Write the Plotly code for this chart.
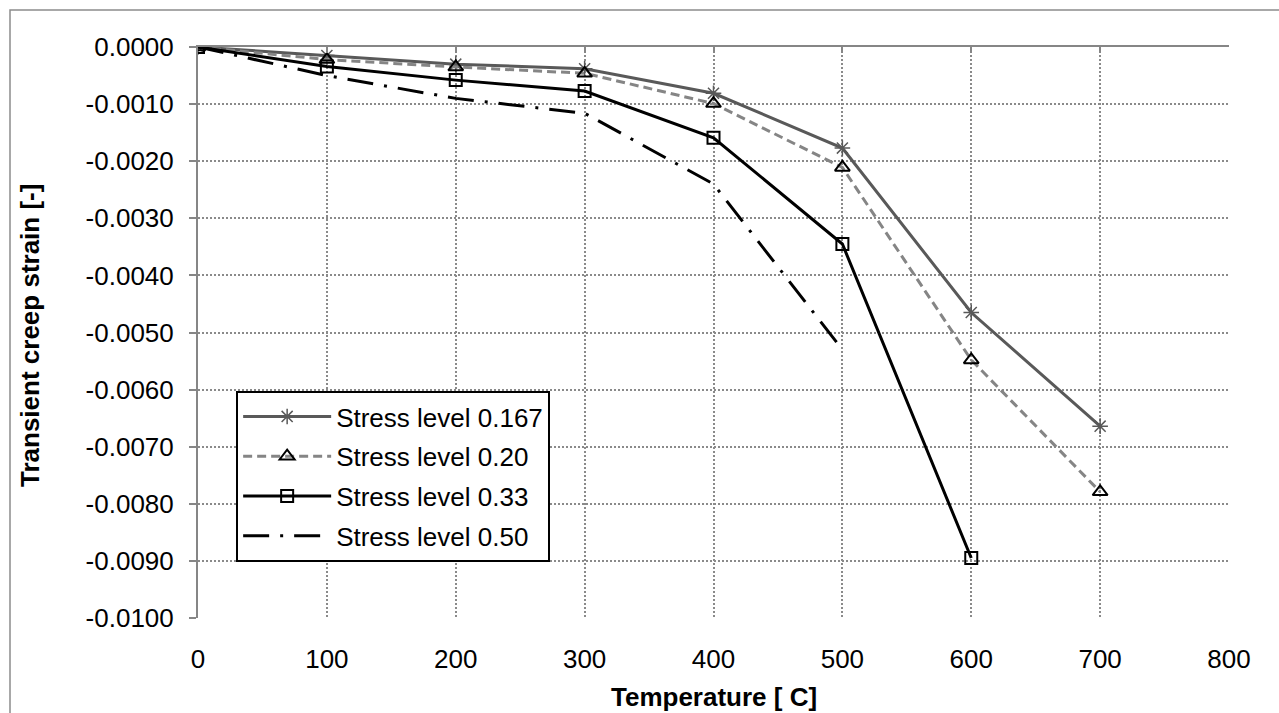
import plotly.graph_objects as go

# Temperatures [°C] and measured transient creep strain for each stress level
temp_167 = [0, 100, 200, 300, 400, 500, 600, 700]
strain_167 = [0.0, -0.00015, -0.00030, -0.00038, -0.00081, -0.00177, -0.00465, -0.00664]

temp_020 = [0, 100, 200, 300, 400, 500, 600, 700]
strain_020 = [0.0, -0.00022, -0.00035, -0.00046, -0.00099, -0.00211, -0.00548, -0.00779]

temp_033 = [0, 100, 200, 300, 400, 500, 600]
strain_033 = [0.0, -0.00034, -0.00058, -0.00077, -0.00159, -0.00345, -0.00895]

temp_050 = [0, 100, 200, 300, 400, 500]
strain_050 = [0.0, -0.00050, -0.00090, -0.00116, -0.00240, -0.00530]

y_tickvals = [0.0, -0.001, -0.002, -0.003, -0.004, -0.005, -0.006, -0.007, -0.008, -0.009, -0.010]
y_ticktext = ["0.0000", "-0.0010", "-0.0020", "-0.0030", "-0.0040", "-0.0050",
              "-0.0060", "-0.0070", "-0.0080", "-0.0090", "-0.0100"]
x_tickvals = [0, 100, 200, 300, 400, 500, 600, 700, 800]

FONT = "Liberation Sans, Arial, sans-serif"
GRID = "#8a8a8a"
AXIS = "#868686"

fig = go.Figure()

fig.add_trace(go.Scatter(
    x=temp_167, y=strain_167, name="Stress level 0.167", legendgroup="a",
    mode="lines+markers",
    line=dict(color="#595959", width=3),
    marker=dict(symbol="asterisk-open", size=13, color="#595959",
                line=dict(color="#595959", width=1.5)),
))
fig.add_trace(go.Scatter(
    x=temp_020, y=strain_020, name="Stress level 0.20", legendgroup="b",
    mode="lines+markers",
    line=dict(color="#858585", width=3, dash="9px,5px"),
    marker=dict(symbol="triangle-up-open", size=13, color="#000000",
                line=dict(color="#000000", width=2)),
))
fig.add_trace(go.Scatter(
    x=temp_033, y=strain_033, name="Stress level 0.33", legendgroup="c",
    mode="lines+markers",
    line=dict(color="#000000", width=3),
    marker=dict(symbol="square-open", size=12, color="#000000",
                line=dict(color="#000000", width=2)),
))
fig.add_trace(go.Scatter(
    x=temp_050, y=strain_050, name="Stress level 0.50", legendgroup="d",
    mode="lines",
    line=dict(color="#000000", width=3, dash="26px,11px,3px,11px"),
))

# helper trace so the top (y = 0) axis line with its tick marks is drawn
fig.add_trace(go.Scatter(
    x=[0], y=[0], xaxis="x2", mode="markers", marker=dict(opacity=0),
    showlegend=False, hoverinfo="skip",
))

fig.update_layout(
    width=1279, height=713,
    margin=dict(l=198, r=50, t=47, b=95),
    paper_bgcolor="white", plot_bgcolor="white",
    font=dict(family=FONT, size=26, color="#000000"),
    showlegend=True,
    legend=dict(
        x=0.037, y=0.3975, xanchor="left", yanchor="top",
        bgcolor="white", bordercolor="#000000", borderwidth=2,
        font=dict(family=FONT, size=26, color="#000000"),
        traceorder="grouped", tracegroupgap=3, itemwidth=88,
    ),
    xaxis=dict(
        range=[0, 800], tickvals=x_tickvals, tickformat="d",
        showgrid=True, gridcolor=GRID, gridwidth=1.5, griddash="2px,2px",
        showline=False, zeroline=False, ticks="",
        ticklabelstandoff=23,
        tickfont=dict(family=FONT, size=26, color="#000000"),
    ),
    xaxis2=dict(
        range=[0, 800], overlaying="x", side="top", anchor="y",
        tickvals=x_tickvals, showticklabels=False, showgrid=False,
        showline=True, linecolor=AXIS, linewidth=2,
        ticks="inside", ticklen=6, tickcolor=AXIS, tickwidth=2,
        zeroline=False,
    ),
    yaxis=dict(
        range=[-0.010, 0.0], tickvals=y_tickvals, ticktext=y_ticktext,
        showgrid=True, gridcolor=GRID, gridwidth=1.5, griddash="2px,2px",
        showline=True, linecolor=AXIS, linewidth=2,
        ticks="outside", ticklen=7, tickcolor=AXIS, tickwidth=2,
        zeroline=False, ticklabelstandoff=10,
        tickfont=dict(family=FONT, size=26, color="#000000"),
    ),
    annotations=[
        dict(text="<b>Temperature [ C]</b>", xref="paper", yref="paper",
             x=0.5, y=(618 - 697) / 571, xanchor="center", yanchor="middle",
             showarrow=False, font=dict(family=FONT, size=26, color="#000000")),
        dict(text="<b>Transient creep strain [-]</b>", xref="paper", yref="paper",
             x=(30 - 198) / 1031, y=(618 - 336) / 571, xanchor="center", yanchor="middle",
             textangle=-90, showarrow=False,
             font=dict(family=FONT, size=26, color="#000000")),
    ],
    shapes=[
        dict(type="rect", xref="paper", yref="paper",
             x0=(10 - 198) / 1031, x1=1.3, y0=-0.6, y1=(618 - 10) / 571,
             line=dict(color="#8c8c8c", width=1.5), layer="below"),
    ],
)

fig.write_html("out.html")
